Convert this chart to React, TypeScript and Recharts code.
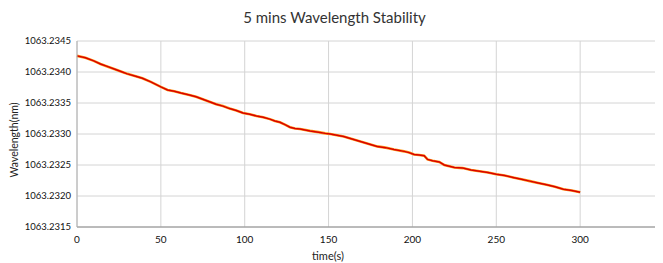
import { LineChart, Line, XAxis, YAxis, CartesianGrid } from "recharts";

const timeS = [
  0, 5, 10, 14, 18, 23, 27, 30, 35, 39, 44, 47, 50, 54, 58, 62, 67, 71, 75, 79, 83, 87, 91, 95, 99, 103, 107, 111, 115,
  118, 121, 124, 127, 130, 133, 139, 144, 148, 151, 155, 159, 164, 169, 174, 179, 184, 189, 195, 198, 201, 204, 207,
  209, 212, 216, 219, 222, 225, 230, 235, 240, 245, 250, 255, 260, 265, 270, 275, 280, 285, 290, 295, 300,
];

const wavelengthNm = [
  1063.23426, 1063.23423, 1063.23418, 1063.23413, 1063.23409, 1063.23404, 1063.234, 1063.23397, 1063.23393,
  1063.2339, 1063.23384, 1063.2338, 1063.23376, 1063.23371, 1063.23369, 1063.23366, 1063.23363, 1063.2336,
  1063.23356, 1063.23352, 1063.23348, 1063.23345, 1063.23341, 1063.23338, 1063.23334, 1063.23332, 1063.23329,
  1063.23327, 1063.23324, 1063.23321, 1063.23319, 1063.23315, 1063.23311, 1063.23309, 1063.23308, 1063.23305,
  1063.23303, 1063.23301, 1063.233, 1063.23298, 1063.23296, 1063.23292, 1063.23288, 1063.23284, 1063.2328,
  1063.23278, 1063.23275, 1063.23272, 1063.2327, 1063.23267, 1063.23266, 1063.23265, 1063.23259, 1063.23257,
  1063.23255, 1063.2325, 1063.23248, 1063.23246, 1063.23245, 1063.23242, 1063.2324, 1063.23238, 1063.23235,
  1063.23233, 1063.2323, 1063.23227, 1063.23224, 1063.23221, 1063.23218, 1063.23215, 1063.23211, 1063.23209,
  1063.23206,
];

const xTicks = [0, 50, 100, 150, 200, 250, 300, 350];
const yTicks = [1063.2315, 1063.232, 1063.2325, 1063.233, 1063.2335, 1063.234, 1063.2345];

const data = timeS.map((t, i) => ({ t, wl: wavelengthNm[i] }));

const font = "Lato, 'Open Sans', sans-serif";

export default function App() {
  return (
    <div style={{ position: "relative", width: 655, height: 255, overflow: "hidden", fontFamily: font }}>
      <div
        style={{
          position: "absolute",
          left: 0,
          top: 0,
          width: 653,
          textAlign: "center",
          fontSize: 15,
          lineHeight: "18px",
          color: "#333",
        }}
      >
        5 mins Wavelength Stability
      </div>
      <div
        style={{
          position: "absolute",
          left: 6,
          top: 132,
          fontSize: 10.5,
          color: "#222",
          whiteSpace: "nowrap",
          transform: "translate(-50%, -50%) rotate(-90deg)",
        }}
      >
        Wavelength(nm)
      </div>
      <div
        style={{
          position: "absolute",
          left: 320,
          top: 247,
          fontSize: 11,
          color: "#222",
          whiteSpace: "nowrap",
          transform: "translate(-50%, -50%)",
        }}
      >
        time(s)
      </div>
      <LineChart width={670} height={255} data={data} margin={{ top: 33, right: 14, left: 0, bottom: 0 }}>
        <CartesianGrid stroke="#d4d4d4" />
        <XAxis
          dataKey="t"
          type="number"
          domain={[0, 350]}
          ticks={xTicks}
          height={36}
          tickLine={false}
          tickSize={6}
          tickMargin={3}
          axisLine={{ stroke: "#8c8c8c" }}
          tick={{ fontSize: 10, fill: "#111", fontFamily: font }}
        />
        <YAxis
          type="number"
          domain={[1063.2315, 1063.2345]}
          ticks={yTicks}
          width={69}
          tickLine={false}
          tickSize={4}
          tickMargin={2}
          axisLine={{ stroke: "#b0b0b0" }}
          tickFormatter={(v: number) => v.toFixed(4)}
          tick={{ fontSize: 9.5, fill: "#111", fontFamily: font }}
        />
        <Line dataKey="wl" type="linear" stroke="#ff9a1a" strokeWidth={2.6} dot={false} isAnimationActive={false} />
        <Line dataKey="wl" type="linear" stroke="#d80000" strokeWidth={1.5} dot={false} isAnimationActive={false} />
      </LineChart>
    </div>
  );
}
